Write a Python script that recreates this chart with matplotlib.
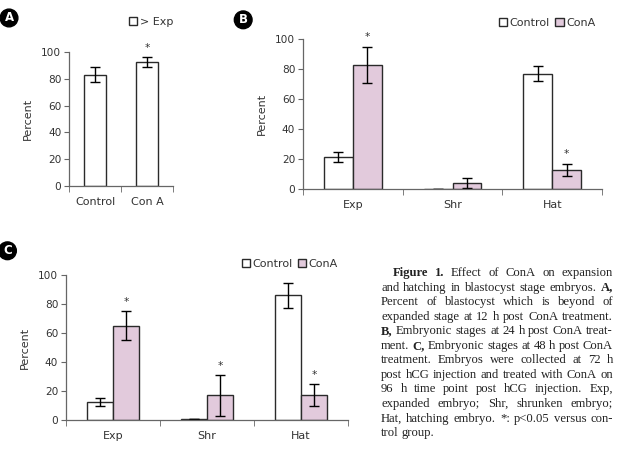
import matplotlib
matplotlib.use('Agg')
import matplotlib.pyplot as plt
import numpy as np

# Panel A: percent beyond expanded stage, 12 h
a_groups = ['Control', 'Con A']
a_values = [83, 92.5]
a_errors = [5.5, 4]
a_star = [False, True]

# Panel B: stages at 24 h
stages = ['Exp', 'Shr', 'Hat']
b_control = [21.5, 0, 77]
b_control_err = [3.5, 0, 5]
b_cona = [83, 4, 13]
b_cona_err = [12, 3.5, 4]
b_star = [True, False, True]

# Panel C: stages at 48 h
c_control = [12.5, 1, 86]
c_control_err = [2.5, 0, 8.5]
c_cona = [65, 17, 17]
c_cona_err = [10, 14, 7.5]
c_star = [True, True, True]

yticks = [0, 20, 40, 60, 80, 100]

# words wrapped in ** are bold
caption_lines = [
    "**Figure** **1.** Effect of ConA on expansion",
    "and hatching in blastocyst stage embryos. **A,**",
    "Percent of blastocyst which is beyond of",
    "expanded stage at 12 h post ConA treatment.",
    "**B,** Embryonic stages at 24 h post ConA treat-",
    "ment. **C,** Embryonic stages at 48 h post ConA",
    "treatment. Embryos were collected at 72 h",
    "post hCG injection and treated with ConA on",
    "96 h time point post hCG injection. Exp,",
    "expanded embryo; Shr, shrunken embryo;",
    "Hat, hatching embryo. *: p<0.05 versus con-",
    "trol group.",
]

PINK = '#e2cadc'
EDGE = '#2a2a2a'
TXT = '#333333'
FS = 7.6
LFS = 8

plt.rcParams['font.family'] = ['DejaVu Sans']

fig = plt.figure(figsize=(6.22, 4.61), dpi=100)


def style_axes(ax, ncat, labels):
    ax.set_xlim(0, ncat)
    ax.set_ylim(0, 100)
    ax.set_yticks(yticks)
    ax.set_yticklabels([str(t) for t in yticks], fontsize=FS, color=TXT)
    ax.set_xticks(np.arange(ncat) + 0.5)
    ax.set_xticklabels(labels, fontsize=LFS, color=TXT)
    ax.tick_params(axis='x', which='major', length=0, pad=8)
    ax.set_xticks(np.arange(ncat + 1), minor=True)
    ax.tick_params(axis='x', which='minor', length=4, direction='out', color='#666666')
    ax.tick_params(axis='y', length=3.5, direction='out', color='#666666', pad=2)
    for s in ['top', 'right']:
        ax.spines[s].set_visible(False)
    for s in ['left', 'bottom']:
        ax.spines[s].set_color('#666666')
        ax.spines[s].set_linewidth(0.9)
    ax.set_ylabel('Percent', fontsize=LFS, color=TXT, labelpad=6)


def add_stars(ax, xs, tops, flags):
    for x, t, f in zip(xs, tops, flags):
        if f:
            ax.text(x, t + 3, '*', ha='center', va='bottom', fontsize=FS,
                    color=TXT, clip_on=False)


def panel_label(x, y, letter):
    fig.text(x, y, letter, ha='center', va='center', fontsize=8.5, fontweight='bold',
             color='white',
             bbox=dict(boxstyle='circle,pad=0.2', fc='black', ec='black'))


ekw = dict(ecolor='black', capsize=3.5, elinewidth=1.0, capthick=1.0)

# ---- Panel A
axA = fig.add_axes([0.111, 0.5965, 0.167, 0.2907])
xa = np.arange(len(a_groups)) + 0.5
axA.bar(xa, a_values, width=0.42, color='white', edgecolor=EDGE, linewidth=1.0,
        yerr=a_errors, error_kw=ekw, label='> Exp')
style_axes(axA, len(a_groups), a_groups)
add_stars(axA, xa, np.add(a_values, a_errors), a_star)
legA = axA.legend(loc='center left', bbox_to_anchor=(0.198, 0.953),
                  bbox_transform=fig.transFigure, frameon=False, fontsize=LFS,
                  handlelength=0.75, handleheight=0.75, handletextpad=0.3, borderpad=0)
for t in legA.get_texts():
    t.set_color(TXT)


def grouped(ax, ctrl, ctrl_err, cona, cona_err, stars, bw, leg_xy):
    x = np.arange(len(stages)) + 0.5
    ax.bar(x - bw / 2, ctrl, width=bw, color='white', edgecolor=EDGE, linewidth=1.0,
           yerr=ctrl_err, error_kw=ekw, label='Control')
    ax.bar(x + bw / 2, cona, width=bw, color=PINK, edgecolor=EDGE, linewidth=1.0,
           yerr=cona_err, error_kw=ekw, label='ConA')
    style_axes(ax, len(stages), stages)
    add_stars(ax, x + bw / 2, np.add(cona, cona_err), stars)
    leg = ax.legend(loc='center right', bbox_to_anchor=leg_xy, bbox_transform=fig.transFigure,
                    frameon=False, fontsize=LFS, ncol=2, handlelength=0.75,
                    handleheight=0.75, handletextpad=0.2, columnspacing=0.5, borderpad=0)
    for t in leg.get_texts():
        t.set_color(TXT)


# ---- Panel B
axB = fig.add_axes([0.487, 0.590, 0.481, 0.3254])
grouped(axB, b_control, b_control_err, b_cona, b_cona_err, b_star, 0.29, (0.966, 0.950))

# ---- Panel C
axC = fig.add_axes([0.106, 0.0889, 0.4535, 0.3146])
grouped(axC, c_control, c_control_err, c_cona, c_cona_err, c_star, 0.28, (0.552, 0.427))

panel_label(0.0145, 0.961, 'A')
panel_label(0.391, 0.957, 'B')
panel_label(0.012, 0.456, 'C')

# ---- Caption, justified word by word
fig.canvas.draw()
renderer = fig.canvas.get_renderer()
cap_left = 381 / 622
cap_right = 613 / 622
cap_top = 1 - 273 / 461
line_h = 14.55 / 461
indent = 12 / 622
CFS = 9.1
serif = ['Liberation Serif', 'DejaVu Serif']


def text_width(s, bold=False):
    t = fig.text(0, 0, s, fontsize=CFS, family=serif,
                 fontweight='bold' if bold else 'normal')
    w = t.get_window_extent(renderer).width / fig.bbox.width
    t.remove()
    return w


sp_w = text_width('a b') - text_width('ab')

for i, line in enumerate(caption_lines):
    y = cap_top - i * line_h
    left = cap_left + (indent if i == 0 else 0)
    words = []
    for w in line.split(' '):
        bold = w.startswith('**')
        words.append((w.replace('**', ''), bold))
    widths = [text_width(w, b) for w, b in words]
    if i == len(caption_lines) - 1 or len(words) == 1:
        gap = sp_w
    else:
        gap = (cap_right - left - sum(widths)) / (len(words) - 1)
    x = left
    for (w, b), wd in zip(words, widths):
        fig.text(x, y, w, fontsize=CFS, family=serif, color='#222222',
                 fontweight='bold' if b else 'normal', va='center', ha='left')
        x += wd + gap

fig.savefig('out.png', dpi=100)
